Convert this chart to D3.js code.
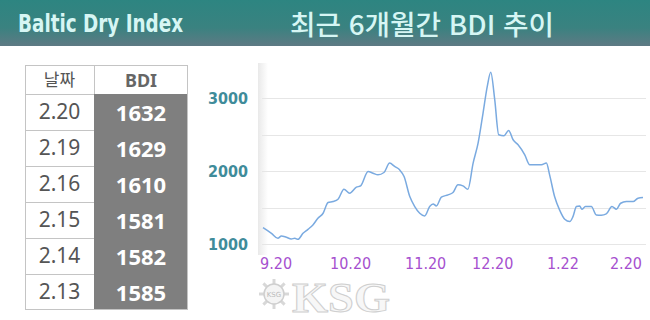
<!DOCTYPE html>
<html lang="ko">
<head>
<meta charset="utf-8">
<title>최근 6개월간 BDI 추이</title>
<script src="https://cdnjs.cloudflare.com/ajax/libs/d3/7.8.5/d3.min.js"></script>
<style>
  body { margin: 0; background: #fff; }
  svg { display: block; }
</style>
</head>
<body>
<script>
// table data (latest six days)
var tableDates = ["2.20", "2.19", "2.16", "2.15", "2.14", "2.13"];
var tableValues = [1632, 1629, 1610, 1581, 1582, 1585];

// six-month series: days since 9.20, index value
var seriesDays = [0, 3.4, 6.0, 7.4, 9.4, 11.4, 12.8, 14.1, 16.1, 18.1, 20.1, 22.1, 24.2, 26.2, 28.2, 30.2,
  32.6, 34.9, 37.6, 39.3, 42.3, 44.3, 46.3, 48.7, 51.0, 53.0, 55.0, 56.8, 59.1, 61.1, 63.1, 65.1,
  67.1, 68.5, 69.8, 71.8, 74.5, 76.5, 78.5, 80.5, 82.5, 84.6, 86.6, 88.6, 90.3, 91.7, 93.3, 94.9,
  97.0, 98.9, 100.7, 102.7, 105.4, 107.4, 109.4, 112.1, 114.1, 115.4, 117.4, 119.4, 121.5, 123.5,
  124.8, 126.2, 127.5, 128.4, 129.8, 132.2, 134.2, 136.2, 138.2, 140.5, 142.3, 144.0, 146.3, 149.0,
  151.0, 153];
var seriesValues = [1224, 1146, 1078, 1110, 1092, 1069, 1078, 1064, 1146, 1201, 1261, 1352, 1421, 1568, 1581, 1613,
  1750, 1696, 1778, 1796, 1993, 1970, 1947, 1979, 2108, 2062, 2016, 1924, 1650, 1513, 1421, 1384,
  1513, 1549, 1522, 1641, 1673, 1705, 1810, 1796, 1750, 2108, 2382, 2794, 3160, 3352, 2977, 2497,
  2483, 2556, 2428, 2359, 2222, 2085, 2085, 2085, 2108, 1947, 1650, 1467, 1339, 1307,
  1375, 1513, 1522, 1476, 1513, 1513, 1398, 1394, 1412, 1513, 1476, 1558, 1581, 1581,
  1627, 1636];

// axis labels
var xTickLabels = ["9.20", "10.20", "11.20", "12.20", "1.22", "2.20"];
var xTickDays = [-1.2, 27, 57.2, 84.2, 114.3, 139.7];
var gridValues = [1000, 1500, 2000, 2500, 3000];
var yTickValues = [1000, 2000, 3000];

var w = 650, h = 320;

var svg = d3.select("body").append("svg")
  .attr("width", w)
  .attr("height", h);

var defs = svg.append("defs");

// header gradient
var hg = defs.append("linearGradient").attr("id", "headGrad")
  .attr("x1", 0).attr("y1", 0).attr("x2", 0).attr("y2", 1);
hg.append("stop").attr("offset", "0%").attr("stop-color", "#2d8581");
hg.append("stop").attr("offset", "60%").attr("stop-color", "#3a8280");
hg.append("stop").attr("offset", "100%").attr("stop-color", "#5e7a84");

var sg = defs.append("linearGradient").attr("id", "shadeGrad")
  .attr("x1", 0).attr("y1", 0).attr("x2", 1).attr("y2", 0);
sg.append("stop").attr("offset", "0%").attr("stop-color", "#e9e9e9");
sg.append("stop").attr("offset", "100%").attr("stop-color", "#ffffff");

// header band
svg.append("rect")
  .attr("x", 0).attr("y", 0)
  .attr("width", w).attr("height", 46)
  .attr("fill", "url(#headGrad)");

svg.append("text")
  .attr("x", 18).attr("y", 32)
  .attr("textLength", 165).attr("lengthAdjust", "spacingAndGlyphs")
  .style("font-family", "'Liberation Sans Narrow', 'DejaVu Sans Condensed', sans-serif")
  .style("font-weight", "bold")
  .style("font-size", "24px")
  .attr("fill", "#d6f6f4")
  .text("Baltic Dry Index");

svg.append("text")
  .attr("x", 290).attr("y", 35)
  .attr("textLength", 264).attr("lengthAdjust", "spacingAndGlyphs")
  .style("font-family", "'Noto Sans CJK KR', sans-serif")
  .style("font-weight", 500)
  .style("font-size", "27px")
  .attr("fill", "#d6f6f4")
  .text("최근 6개월간 BDI 추이");

// ---- table ----
var tx0 = 25, tx1 = 94, tx2 = 188;
var headTop = 65, headBot = 94, rowH = 36;

var table = svg.append("g");

table.append("rect")
  .attr("x", tx1).attr("y", headBot)
  .attr("width", tx2 - tx1).attr("height", rowH * tableDates.length)
  .attr("fill", "#7f7f7f");

// borders
table.append("rect")
  .attr("x", tx0 + 0.5).attr("y", headTop + 0.5)
  .attr("width", tx2 - tx0 - 1).attr("height", headBot - headTop + rowH * tableDates.length - 1)
  .attr("fill", "none").attr("stroke", "#c4c4c4");
table.append("line")
  .attr("x1", tx1 + 0.5).attr("x2", tx1 + 0.5)
  .attr("y1", headTop).attr("y2", headBot)
  .attr("stroke", "#c4c4c4");
table.selectAll("line.row")
  .data(d3.range(tableDates.length))
  .enter().append("line")
  .attr("class", "row")
  .attr("x1", tx0).attr("x2", tx1)
  .attr("y1", function(d) { return headBot + d * rowH + 0.5; })
  .attr("y2", function(d) { return headBot + d * rowH + 0.5; })
  .attr("stroke", "#c4c4c4");

table.append("text")
  .attr("x", (tx0 + tx1) / 2).attr("y", 86)
  .attr("text-anchor", "middle")
  .style("font-family", "'Noto Sans CJK KR', sans-serif")
  .style("font-size", "17px")
  .attr("fill", "#555")
  .text("날짜");
table.append("text")
  .attr("x", (tx1 + tx2) / 2).attr("y", 87)
  .attr("text-anchor", "middle")
  .style("font-family", "'Noto Sans', sans-serif")
  .style("font-weight", "bold")
  .style("font-size", "18px")
  .attr("fill", "#666")
  .text("BDI");

table.selectAll("text.date")
  .data(tableDates)
  .enter().append("text")
  .attr("class", "date")
  .attr("x", (tx0 + tx1) / 2)
  .attr("y", function(d, i) { return headBot + i * rowH + 25; })
  .attr("text-anchor", "middle")
  .style("font-family", "'Noto Sans', sans-serif")
  .style("font-size", "21px")
  .attr("fill", "#555")
  .text(function(d) { return d; });

table.selectAll("text.val")
  .data(tableValues)
  .enter().append("text")
  .attr("class", "val")
  .attr("x", (tx1 + tx2) / 2)
  .attr("y", function(d, i) { return headBot + i * rowH + 27; })
  .attr("text-anchor", "middle")
  .style("font-family", "'Noto Sans', sans-serif")
  .style("font-weight", "bold")
  .style("font-size", "22px")
  .attr("fill", "#ffffff")
  .text(function(d) { return d; });

// ---- line chart ----
var x = d3.scaleLinear().domain([0, 153]).range([263, 643]);
var y = d3.scaleLinear().domain([1000, 3000]).range([244, 98]);

var chart = svg.append("g");

chart.append("rect")
  .attr("x", 258).attr("y", 63)
  .attr("width", 10).attr("height", 192)
  .attr("fill", "url(#shadeGrad)");

chart.selectAll("line.grid")
  .data(gridValues)
  .enter().append("line")
  .attr("class", "grid")
  .attr("x1", 262).attr("x2", 646)
  .attr("y1", function(d) { return Math.round(y(d)) + 0.5; })
  .attr("y2", function(d) { return Math.round(y(d)) + 0.5; })
  .attr("stroke", "#e6e6e6");

chart.selectAll("text.ytick")
  .data(yTickValues)
  .enter().append("text")
  .attr("class", "ytick")
  .attr("x", 248)
  .attr("y", function(d) { return y(d) + 6; })
  .attr("text-anchor", "end")
  .attr("textLength", 40).attr("lengthAdjust", "spacingAndGlyphs")
  .style("font-family", "'DejaVu Sans Condensed', sans-serif")
  .style("font-weight", "bold")
  .style("font-size", "15px")
  .attr("fill", "#3f8c9a")
  .text(function(d) { return d; });

chart.selectAll("text.xtick")
  .data(xTickLabels)
  .enter().append("text")
  .attr("class", "xtick")
  .attr("x", function(d, i) { return x(xTickDays[i]); })
  .attr("y", 269)
  .style("font-family", "'DejaVu Sans Condensed', sans-serif")
  .style("font-size", "16px")
  .attr("fill", "#a650cf")
  .text(function(d) { return d; });

var line = d3.line()
  .x(function(d, i) { return x(seriesDays[i]); })
  .y(function(d) { return y(d); })
  .curve(d3.curveMonotoneX);

chart.append("path")
  .datum(seriesValues)
  .attr("d", line)
  .attr("fill", "none")
  .attr("stroke", "#7aaae0")
  .attr("stroke-width", 1.5);

// ---- KSG watermark ----
var wm = svg.append("g");
var cx = 274, cy = 294;
wm.selectAll("line.spoke")
  .data(d3.range(8))
  .enter().append("line")
  .attr("class", "spoke")
  .attr("x1", cx).attr("y1", cy)
  .attr("x2", function(d) { return cx + 15 * Math.cos(d * Math.PI / 4); })
  .attr("y2", function(d) { return cy + 15 * Math.sin(d * Math.PI / 4); })
  .attr("stroke", "#d8d8d8").attr("stroke-width", 3);
wm.append("circle")
  .attr("cx", cx).attr("cy", cy).attr("r", 10)
  .attr("fill", "#f4f4f4").attr("stroke", "#cfcfcf").attr("stroke-width", 1.5);
wm.append("text")
  .attr("x", cx).attr("y", cy + 3)
  .attr("text-anchor", "middle")
  .style("font-family", "'DejaVu Sans', sans-serif")
  .style("font-size", "7px")
  .attr("fill", "#bbb")
  .text("KSG");
wm.append("text")
  .attr("x", 292).attr("y", 312)
  .attr("textLength", 98).attr("lengthAdjust", "spacingAndGlyphs")
  .style("font-family", "'Liberation Serif', serif")
  .style("font-weight", "bold")
  .style("font-size", "42px")
  .attr("fill", "#f7f7f7")
  .attr("stroke", "#cfcfcf")
  .attr("stroke-width", 1)
  .text("KSG");
</script>
</body>
</html>
